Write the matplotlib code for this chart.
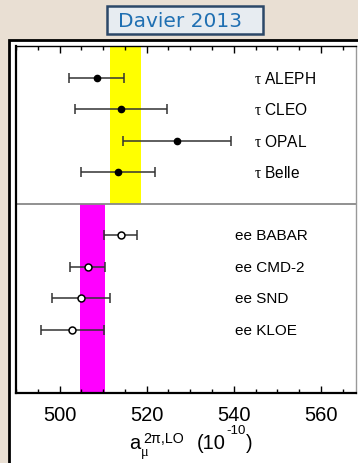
import matplotlib
matplotlib.use("Agg")
import matplotlib.pyplot as plt
from matplotlib.patches import Rectangle
from matplotlib.ticker import MultipleLocator

plt.rcParams['font.family'] = ['Liberation Sans', 'DejaVu Sans']
plt.rcParams['mathtext.fontset'] = 'custom'
plt.rcParams['mathtext.rm'] = 'Liberation Sans'
plt.rcParams['mathtext.it'] = 'Liberation Serif'
plt.rcParams['mathtext.bf'] = 'Liberation Sans:bold'

# Data
tau_labels = [r"$\tau$ ALEPH", r"$\tau$ CLEO", r"$\tau$ OPAL", r"$\tau$ Belle"]
tau_values = [508.5, 514.1, 526.9, 513.5]
tau_errors = [6.3, 10.5, 12.4, 8.5]
tau_pos = [1, 2, 3, 4]

ee_labels = ["ee BABAR", "ee CMD-2", "ee SND", "ee KLOE"]
ee_values = [514.0, 506.5, 504.9, 502.9]
ee_errors = [3.8, 4.0, 6.7, 7.2]
ee_pos = [6, 7, 8, 9]

tau_band = (511.5, 518.7)
ee_band = (504.8, 510.5)

W, H = 358, 464
bg = '#e9dfd3'
fig = plt.figure(figsize=(W/100, H/100), dpi=100, facecolor=bg)

# outer white frame
fig.patches.append(Rectangle((8.5/W, -0.05), 1.1, (H-40.5)/H + 0.05,
                             transform=fig.transFigure, facecolor='white',
                             edgecolor='black', lw=2.0, zorder=0))

# title box
fig.patches.append(Rectangle((107/W, 1-35/H), 156/W, 28/H,
                             transform=fig.transFigure, facecolor='#e7ecf1',
                             edgecolor='#2c4868', lw=1.8, zorder=1))
fig.text(180/W, 1-21.5/H, "Davier 2013", ha='center', va='center',
         fontsize=14.5, color='#1f6fb2', family=['DejaVu Sans'])

ax = fig.add_axes([16/W, 1-394/H, (355.7-16)/W, (394-47)/H])
ax.set_zorder(5)
ax.set_xlim(490, 568)
ax.set_ylim(11, 0)

ax.axvspan(*tau_band, ymin=6/11, ymax=1, color='#ffff00', lw=0, zorder=1)
ax.axvspan(*ee_band, ymin=0, ymax=6/11, color='#ff00ff', lw=0, zorder=1)
ax.axhline(5, color='#888888', lw=1.3, zorder=2)

ax.errorbar(tau_values, tau_pos, xerr=tau_errors, fmt='o', color='black',
            ecolor='#333333', elinewidth=1.1, capsize=3.5, capthick=1.1,
            ms=4.5, zorder=3)
ax.errorbar(ee_values, ee_pos, xerr=ee_errors, fmt='o', color='black',
            mfc='white', mec='black', mew=1.1,
            ecolor='#333333', elinewidth=1.1, capsize=3.5, capthick=1.1,
            ms=5, zorder=3)

for lab, p in zip(tau_labels, tau_pos):
    ax.text(544.6, p, lab, ha='left', va='center', fontsize=11.2)
for lab, p in zip(ee_labels, ee_pos):
    ax.text(540.2, p, lab, ha='left', va='center', fontsize=11)

ax.xaxis.set_major_locator(MultipleLocator(20))
ax.xaxis.set_minor_locator(MultipleLocator(5))
ax.tick_params(axis='x', which='both', direction='in', top=True, bottom=True,
               labelsize=14.5, pad=9, color='black')
ax.tick_params(axis='x', which='major', length=5, width=1)
ax.tick_params(axis='x', which='minor', length=3, width=1)
ax.set_yticks([])

for s in ['left', 'bottom']:
    ax.spines[s].set_linewidth(1.6)
    ax.spines[s].set_color('black')
ax.spines['top'].set_linewidth(1.0)
ax.spines['right'].set_linewidth(1.0)
ax.spines['right'].set_color('#999999')

# x-axis title built ROOT-style from pieces
renderer = fig.canvas.get_renderer()

def piece(x_px, base_px, s, size, family=None):
    kw = {}
    if family:
        kw['family'] = family
    t = fig.text(x_px/W, 1-base_px/H, s, fontsize=size, ha='left',
                 va='baseline', **kw)
    return t.get_window_extent(renderer).x1

xa = piece(129, 449, "a", 14.5)
piece(xa + 0.5, 456, "μ", 10.5, ['Liberation Serif'])
piece(max(143, xa + 3), 443, "2π,LO", 10.3)
x = piece(197, 449, "(10", 14.5)
x = piece(x + 0.5, 434, "-10", 9.5)
piece(x + 0.5, 449, ")", 14.5)

fig.savefig("out.png", dpi=100, facecolor=bg)
